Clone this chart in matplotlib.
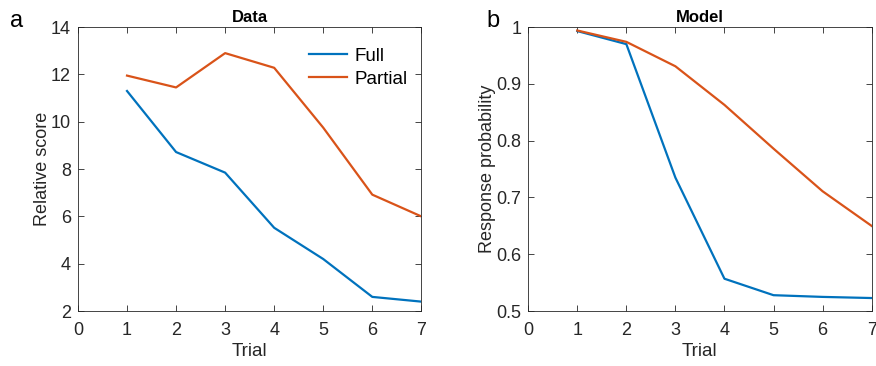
import matplotlib
matplotlib.use("Agg")
import matplotlib.pyplot as plt

plt.rcParams['font.family'] = ['Liberation Sans', 'DejaVu Sans']

trials = [1, 2, 3, 4, 5, 6, 7]
data_full = [11.3, 8.72, 7.85, 5.52, 4.2, 2.6, 2.4]
data_partial = [11.95, 11.45, 12.9, 12.28, 9.75, 6.92, 6.0]
model_full = [0.993, 0.970, 0.735, 0.557, 0.528, 0.525, 0.523]
model_partial = [0.994, 0.974, 0.931, 0.863, 0.786, 0.711, 0.650]

blue = '#0072BD'
orange = '#D95319'

fig = plt.figure(figsize=(8.76, 3.66), dpi=100)
ax1 = fig.add_axes([0.089, 0.150, 0.392, 0.776])
ax2 = fig.add_axes([0.603, 0.150, 0.392, 0.776])

def style(ax):
    ax.tick_params(direction='in', top=True, right=True, labelsize=13,
                   length=4, width=0.6, colors='#262626', pad=5)
    ax.tick_params(axis='x', pad=8)
    for s in ax.spines.values():
        s.set_linewidth(0.6)
        s.set_color('#262626')
    ax.set_xlim(0, 7)
    ax.set_xticks(range(0, 8))
    ax.set_xlabel('Trial', fontsize=13.5, color='#262626', labelpad=3)

ax1.plot(trials, data_full, color=blue, lw=1.6, label='Full')
ax1.plot(trials, data_partial, color=orange, lw=1.6, label='Partial')
style(ax1)
ax1.set_ylim(2, 14)
ax1.set_yticks(range(2, 15, 2))
ax1.set_ylabel('Relative score', fontsize=13, color='#262626', labelpad=0)
ax1.set_title('Data', fontsize=12, fontweight='bold', pad=4)
ax1.legend(loc='upper right', frameon=False, fontsize=13.5, handlelength=2.0,
           handletextpad=0.4, labelspacing=0.3, borderaxespad=0.7,
           bbox_to_anchor=(1.02, 1.0))

ax2.plot(trials, model_full, color=blue, lw=1.6)
ax2.plot(trials, model_partial, color=orange, lw=1.6)
style(ax2)
ax2.set_ylim(0.5, 1)
ax2.set_yticks([0.5, 0.6, 0.7, 0.8, 0.9, 1])
ax2.set_yticklabels(['0.5', '0.6', '0.7', '0.8', '0.9', '1'])
ax2.set_ylabel('Response probability', fontsize=13, color='#262626', labelpad=0)
ax2.set_title('Model', fontsize=12, fontweight='bold', pad=4)

fig.text(0.011, 0.925, 'a', fontsize=17)
fig.text(0.555, 0.925, 'b', fontsize=17)

fig.savefig('out.png', dpi=100)
